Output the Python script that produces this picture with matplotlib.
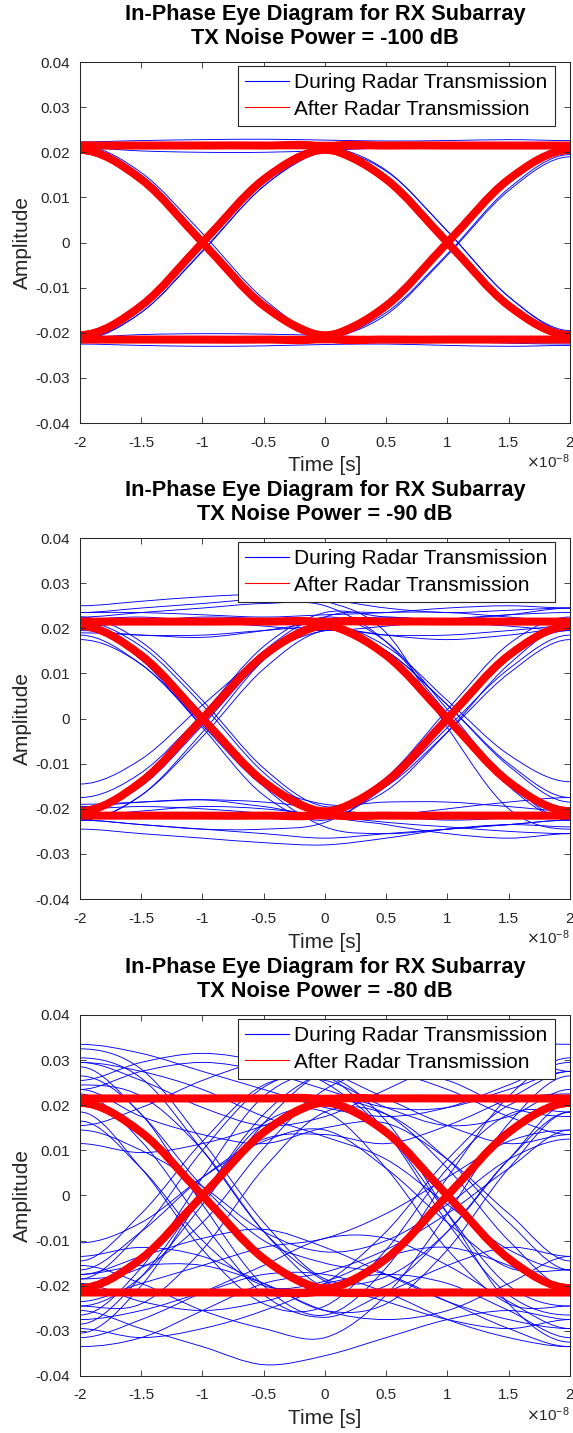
import numpy as np
import matplotlib
matplotlib.use('Agg')
import matplotlib.pyplot as plt
from matplotlib.path import Path
from matplotlib.patches import PathPatch
from matplotlib.lines import Line2D

plt.rcParams['font.family'] = ['Liberation Sans', 'DejaVu Sans']
plt.rcParams['axes.unicode_minus'] = False

# sample instants of every trace, in units of 1e-8 s
t_samples = [-2, -1.5, -1, -0.5, 0, 0.5, 1, 1.5, 2]

# amplitudes below are in units of 1e-3
# after radar transmission (same in all three panels)
red_traces = [
    [21.5, 21.5, 21.5, 21.5, 21.5, 21.5, 21.5, 21.5, 21.5],
    [-21.5, -21.5, -21.5, -21.5, -21.5, -21.5, -21.5, -21.5, -21.5],
    [20.5, 14, 0, -14, -20.5, -14, 0, 14, 20.5],
    [-20.5, -14, 0, 14, 20.5, 14, 0, -14, -20.5],
    [21.5, 21.5, 21.5, 21.5, 21, 14, 0, -14, -20.5],
    [-21.5, -21.5, -21.5, -21.5, -21, -14, 0, 14, 20.5],
    [20.5, 14, 0, -14, -21, -21.5, -21.5, -21.5, -21.5],
    [-20.5, -14, 0, 14, 21, 21.5, 21.5, 21.5, 21.5],
]

# during radar transmission, TX noise -100 dB
blue_100 = [
    [22.3, 22.6, 22.8, 22.9, 22.7, 22.5, 22.6, 22.8, 22.6],
    [21.0, 20.3, 20.0, 20.0, 20.4, 21.0, 21.3, 21.1, 20.8],
    [21.8, 21.5, 21.2, 21.5, 22.0, 22.2, 22.0, 21.7, 21.5],
    [20.8, 14.5, 0.5, -13.5, -20.8, -14.0, -0.5, 13.8, 20.6],
    [21.5, 15.5, 2.0, -12.5, -20.5, -15.5, -2.5, 12.0, 19.5],
    [-20.5, -14.0, -0.3, 14.2, 20.8, 14.5, 0.5, -13.8, -20.8],
    [-21.5, -15.5, -2.0, 12.5, 20.2, 15.8, 2.5, -12.0, -19.5],
    [21.6, 21.3, 21.0, 21.4, 21.2, 14.8, 0.8, -13.5, -20.8],
    [-21.6, -21.2, -21.0, -21.4, -21.0, -14.5, -0.8, 13.5, 20.8],
    [20.6, 14.0, -0.2, -14.5, -21.5, -21.8, -22.0, -21.7, -21.5],
    [-20.6, -14.0, 0.2, 14.5, 21.5, 21.8, 22.0, 21.6, 21.4],
    [-22.5, -22.8, -23.0, -22.9, -22.6, -22.5, -22.8, -23.0, -22.8],
    [-21.0, -20.4, -20.2, -20.3, -20.6, -21.0, -21.2, -21.0, -20.8],
    [-21.8, -21.6, -21.4, -21.7, -22.0, -22.1, -21.8, -21.5, -21.6],
    [22.0, 21.8, 21.5, 21.8, 21.6, 16.0, 2.5, -12.0, -19.8],
    [-22.0, -21.8, -21.5, -21.8, -21.5, -16.0, -2.8, 11.5, 19.0],
    [21.2, 15.0, 1.0, -13.5, -21.0, -21.5, -21.3, -21.8, -22.0],
    [-21.2, -15.5, -1.8, 12.5, 20.5, 21.6, 21.8, 22.0, 21.7],
    [21.3, 21.6, 21.9, 21.8, 21.5, 21.3, 21.2, 21.6, 22.0],
    [20.2, 13.5, -0.8, -14.5, -21.0, -14.5, 0.2, 14.3, 21.0],
    [-20.2, -13.5, 0.8, 14.6, 21.0, 14.6, 0.0, -14.0, -20.4],
    [-21.3, -21.5, -21.2, -21.0, -21.3, -21.6, -21.9, -22.3, -22.5],
]

# during radar transmission, TX noise -90 dB
blue_90 = [
    [25, 26, 27, 27.5, 26.5, 24.5, 23.5, 24, 24.5],
    [23.5, 23.5, 23, 22.5, 23, 23.5, 24.5, 25, 24.5],
    [19, 18.5, 18, 19.5, 21.5, 22.5, 21.5, 20.5, 19.5],
    [20.5, 21.5, 22.5, 22, 20.5, 18.5, 17.5, 18.5, 20],
    [-22.5, -23.5, -24.5, -25.5, -26.5, -25.5, -24.5, -23.5, -22.5],
    [-24.5, -25.5, -26.5, -27.5, -28, -26.5, -24.5, -23.5, -24],
    [-19, -18.5, -18, -18.5, -20, -21.5, -22.5, -22, -21],
    [-21.5, -20.5, -19.5, -20, -21.5, -23, -24, -25, -25.5],
    [17.5, 12, -1.5, -15, -20.5, -13, 2, 16.5, 22.5],
    [22.5, 17, 4, -11, -19.5, -15, -3, 10, 17.5],
    [-22.5, -17, -4, 11, 19.5, 15, 3, -10.5, -18.5],
    [-17.5, -12, 1, 15, 22.5, 17, 2, -14, -22.5],
    [22.5, 23.5, 24.5, 25.5, 25, 17, 1, -15, -22.5],
    [19.5, 18.5, 18.5, 19.5, 20, 15, 3, -10, -17.5],
    [-22.5, -23.5, -24.5, -24.5, -23, -15, -2, 11, 18.5],
    [-19.5, -18.5, -18, -19.5, -21, -16, -3, 12, 20.5],
    [21.5, 16, 3, -12, -21, -23.5, -25.5, -26.5, -25.5],
    [18.5, 12, -1, -14, -19, -18.5, -18.5, -19.5, -20.5],
    [-22.5, -17, -3, 13, 22.5, 23.5, 23.5, 22.5, 21.5],
    [-14.5, -9, 3, 14, 19.5, 18.5, 18.5, 19.5, 20.5],
    [23.5, 24.5, 25.5, 26.5, 26, 19, -2, -20, -24.5],
    [-20, -19.5, -20, -21, -22, -21.5, -20, -18.5, -17.5],
    [-20.5, -15, -1.5, 13, 20.5, 16, 4, -8, -14],
    [22, 22.5, 21.5, 20.5, 19.5, 20.5, 22, 23, 23.5],
    [20.5, 14.5, 1, -15, -24, -25.5, -24.5, -23.5, -22.5],
    [-21.5, -14, 1, 16, 23.5, 22.5, 22, 23, 24.5],
    [20.5, 13, -2, -17, -22.5, -14, 1, 14, 19.5],
]

# during radar transmission, TX noise -80 dB
blue_80 = [
    [33.5, 31.5, 27.5, 23.5, 19.5, 17.5, 19.5, 24.5, 29.5],
    [30.5, 26, 10, -8, -19, -23.5, -27.5, -29.5, -27.5],
    [29.5, 27.5, 23.5, 17.5, 13, 8, -2, -12, -16.5],
    [32.5, 28, 12, -6, -18.5, -18, -8, 8, 20.5],
    [-29.5, -31.5, -29.5, -25.5, -19.5, -8, 8, 20, 22.5],
    [-26.5, -16, 4, 22, 26.5, 16.5, -4, -24, -32.5],
    [-17.5, -13.5, -9.5, -7.5, -11.5, -17.5, -23.5, -27.5, -29.5],
    [-25.5, -29.5, -33.5, -37.5, -35.5, -31.5, -27.5, -25.5, -27.5],
    [-30.5, -20, 0, 18, 27.5, 29.5, 31.5, 33.5, 33.5],
    [14.5, 10, 2, -8, -12.5, -10, -2, 8, 12.5],
    [-10.5, -6, 4, 12, 14.5, 6, -6, -16, -16.5],
    [11.5, 9.5, 11.5, 15.5, 21, 18, 6, -10, -20.5],
    [-15.5, -19.5, -25.5, -29.5, -31.5, -22, -4, 16, 26.5],
    [16.5, 6, -10, -20, -19, -13.5, -11.5, -15.5, -21.5],
    [-16.5, -8, 4, 12.5, 13.5, 11.5, 15.5, 21.5, 27.5],
    [15.5, 19.5, 25.5, 29.5, 27.5, 21.5, 15.5, 11.5, 13.5],
    [-13.5, -11.5, -13.5, -19.5, -25.5, -27.5, -25.5, -19.5, -13.5],
    [-24.5, -24, -12, 6, 18.5, 18, 8, -6, -16.5],
    [26.5, 18, -2, -20, -26.5, -16, 4, 22, 30.5],
    [25.5, 29.5, 31.5, 29.5, 25, 14, -4, -20, -24.5],
    [-23.5, -19.5, -15.5, -11.5, -9.5, -4, 4, 12, 14.5],
    [-14.5, -4, 12, 24.5, 25.5, 19.5, 15.5, 17.5, 23.5],
    [22.5, 12, -6, -22, -27, -21.5, -15.5, -11.5, -13.5],
    [-31.5, -27.5, -21.5, -15.5, -9.5, -9.5, -15.5, -23.5, -29.5],
    [29.5, 25.5, 19.5, 15.5, 17.5, 23.5, 29.5, 31.5, 27.5],
    [-18.5, -8, 10, 24, 26.5, 14, -6, -22, -26.5],
    [18.5, 6, -12, -24, -24.5, -12, 6, 18, 18.5],
    [-33.5, -31.5, -25.5, -19.5, -17, -12, -4, 6, 14.5],
    [23.5, 17.5, 13.5, 11.5, 15, 16, 8, -4, -14.5],
    [-24.5, -18, -2, 16, 27.5, 27.5, 23.5, 17.5, 13.5],
    [-19.5, -23.5, -25.5, -23.5, -19.5, -17.5, -19.5, -25.5, -31.5],
    [28.5, 18, 2, -10, -15, -17.5, -23.5, -29.5, -33.5],
    [-28.5, -18, 0, 16, 18.5, 6, -12, -24, -24.5],
    [23.5, 27.5, 29.5, 27.5, 23.5, 19.5, 19.5, 23.5, 27.5],
    [-17.5, -15.5, -15.5, -19.5, -25.5, -24, -12, 6, 18.5],
    [-18.5, -16, -6, 10.5, 23.5, 27.5, 25.5, 19.5, 17.5],
    [24.5, 22, 10, -8, -20.5, -20, -8, 8, 18.5],
    [-27.5, -25.5, -21.5, -17.5, -17.5, -21.5, -27.5, -31.5, -33.5],
]

noise_powers = ['-100', '-90', '-80']
blue_sets = [blue_100, blue_90, blue_80]

x_ticks = [-2, -1.5, -1, -0.5, 0, 0.5, 1, 1.5, 2]
x_tick_labels = ['-2', '-1.5', '-1', '-0.5', '0', '0.5', '1', '1.5', '2']
y_ticks = [-0.04, -0.03, -0.02, -0.01, 0, 0.01, 0.02, 0.03, 0.04]
y_tick_labels = ['-0.04', '-0.03', '-0.02', '-0.01', '0', '0.01', '0.02', '0.03', '0.04']

AX_GRAY = '#262626'


def smooth_path(x, y):
    # cubic bezier through the samples (catmull-rom tangents, flat at the ends)
    p = np.column_stack([np.asarray(x, float), np.asarray(y, float)])
    first = [2 * p[0, 0] - p[1, 0], p[1, 1]]
    last = [2 * p[-1, 0] - p[-2, 0], p[-2, 1]]
    ext = np.vstack([first, p, last])
    verts = [p[0]]
    codes = [Path.MOVETO]
    for i in range(1, len(ext) - 2):
        c1 = ext[i] + (ext[i + 1] - ext[i - 1]) / 6
        c2 = ext[i + 1] - (ext[i + 2] - ext[i]) / 6
        verts += [c1, c2, ext[i + 1]]
        codes += [Path.CURVE4] * 3
    return Path(verts, codes)


def draw_trace(ax, vals, color, lw):
    x = np.array(t_samples) * 1e-8
    y = np.array(vals) * 1e-3
    patch = PathPatch(smooth_path(x, y), facecolor='none', edgecolor=color,
                      lw=lw, joinstyle='round', capstyle='butt')
    ax.add_patch(patch)


fig = plt.figure(figsize=(5.73, 14.33), dpi=100)
bottoms = [0.7048, 0.3726, 0.0398]

for k in range(3):
    ax = fig.add_axes([0.1396, bottoms[k], 0.8551, 0.2519])
    for tr in blue_sets[k]:
        draw_trace(ax, tr, '#0000ff', 0.65)
    for tr in red_traces:
        draw_trace(ax, tr, '#ff0000', 5.5)

    ax.set_xlim(-2e-8, 2e-8)
    ax.set_ylim(-0.04, 0.04)
    ax.set_xticks(np.array(x_ticks) * 1e-8)
    ax.set_xticklabels(x_tick_labels)
    ax.set_yticks(y_ticks)
    ax.set_yticklabels(y_tick_labels)
    ax.tick_params(axis='both', direction='in', top=True, right=True, length=4,
                   width=0.6, color=AX_GRAY, labelcolor=AX_GRAY, labelsize=11)
    ax.tick_params(axis='x', pad=9)
    ax.tick_params(axis='y', pad=7)
    for sp in ax.spines.values():
        sp.set_color(AX_GRAY)
        sp.set_linewidth(0.75)

    ax.set_xlabel('Time [s]', fontsize=15, color=AX_GRAY, labelpad=5)
    ax.set_ylabel('Amplitude', fontsize=15, color=AX_GRAY, labelpad=3)
    ax.set_title('In-Phase Eye Diagram for RX Subarray\nTX Noise Power = %s dB' % noise_powers[k],
                 fontsize=15.7, fontweight='bold', pad=13, linespacing=1.2)
    ax.text(1.0, -0.108, r'$\times\mathregular{10^{-8}}$', transform=ax.transAxes,
            ha='right', va='center', fontsize=11, color=AX_GRAY)

    handles = [Line2D([], [], color='#0000ff', lw=0.8),
               Line2D([], [], color='#ff0000', lw=0.8)]
    leg = ax.legend(handles, ['During Radar Transmission', 'After Radar Transmission'],
                    loc='upper right', bbox_to_anchor=(1 - 15 / 490, 1 - 4 / 361),
                    borderaxespad=0, fontsize=15, handlelength=2.1, handletextpad=0.25,
                    borderpad=0.35, labelspacing=0.35, fancybox=False, framealpha=1)
    leg.get_frame().set_edgecolor(AX_GRAY)
    leg.get_frame().set_linewidth(0.8)
    for txt in leg.get_texts():
        txt.set_color('#000000')

fig.savefig('out.png', dpi=100)
